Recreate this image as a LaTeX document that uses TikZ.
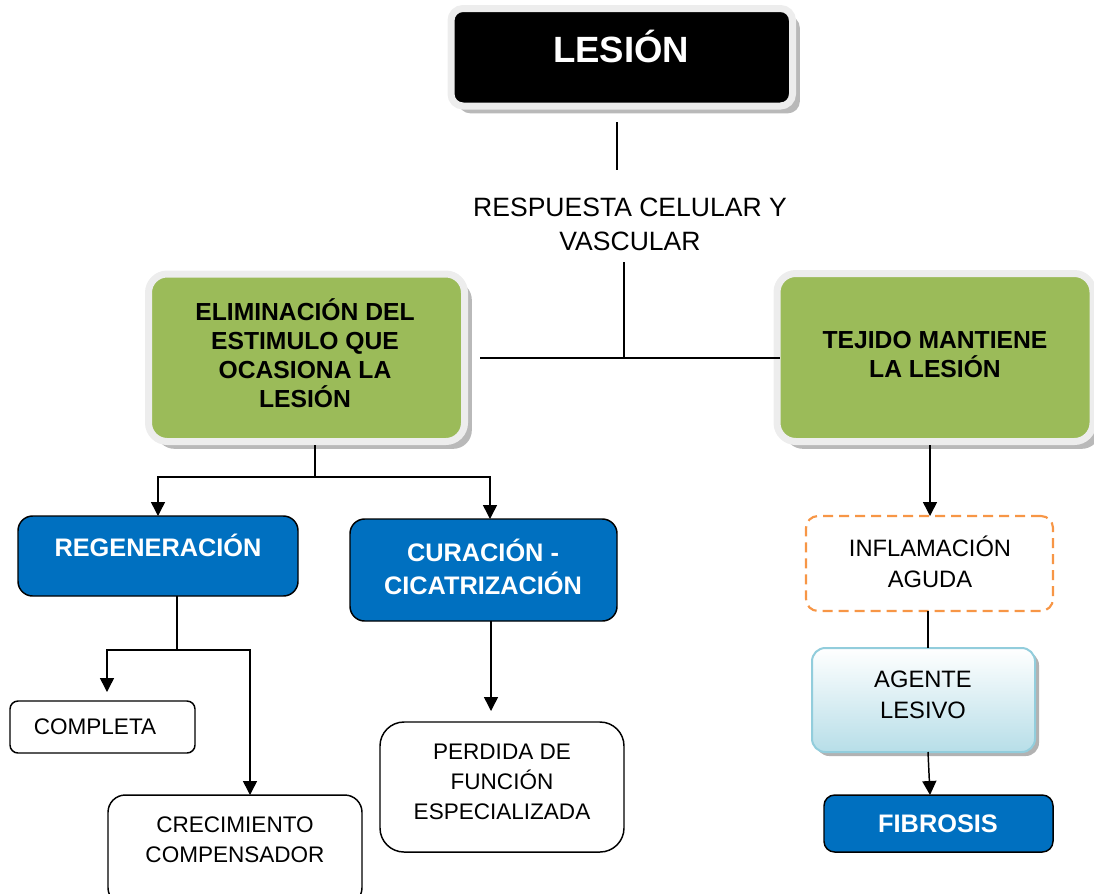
\documentclass[tikz,border=0pt]{standalone}
\usepackage{fontspec}
\setmainfont{Liberation Sans}
\usetikzlibrary{arrows.meta,shadows,calc}
\newlength\pxu \setlength\pxu{0.75pt}
\definecolor{lgreen}{HTML}{9BBB59}
\definecolor{mblue}{HTML}{0070C0}
\definecolor{oran}{HTML}{F79646}
\definecolor{lblue}{HTML}{B7DEE8}
\definecolor{lbord}{HTML}{92CDDC}
\definecolor{frameg}{HTML}{EDEDED}
\tikzset{
  x=0.75pt, y=-0.75pt,
  conn/.style={line width=1.1pt, black},
  arr/.style={conn, -{Triangle[length=10.5pt,width=10.5pt]}},
  boxbase/.style={inner sep=0pt, outer sep=0pt},
  framed/.style={boxbase, rounded corners=9pt, line width=5.25pt, draw=frameg,
     drop shadow={shadow xshift=5.5pt, shadow yshift=-5.5pt, fill=gray!55, opacity=1}},
  bluebox/.style={boxbase, rounded corners=11pt, line width=1.1pt, draw=black, fill=mblue},
  whitebox/.style={boxbase, line width=1.1pt, draw=black, fill=white},
  dashbox/.style={boxbase, rounded corners=9pt, line width=1.6pt, draw=oran, dash pattern=on 7.5pt off 4.5pt, fill=white},
  gradbox/.style={boxbase, rounded corners=10pt, line width=1.5pt, draw=lbord, top color=white, bottom color=lblue,
     drop shadow={shadow xshift=3pt, shadow yshift=-3pt, fill=gray!60, opacity=1}},
  boldtxt/.style={align=center, inner sep=0pt, font=\fontsize{18.5}{21.75}\selectfont\bfseries},
  bluetxt/.style={align=center, inner sep=0pt, text=white, font=\fontsize{19}{24.75}\selectfont\bfseries},
  bodytxt/.style={align=center, inner sep=0pt, font=\fontsize{16.9}{22.5}\selectfont},
  bigbody/.style={align=center, inner sep=0pt, font=\fontsize{17.8}{23.5}\selectfont},
}
\begin{document}
\begin{tikzpicture}
\useasboundingbox (0,0) rectangle (1094,893);

% top box
\node[framed, fill=black, minimum width=341.5\pxu, minimum height=97.5\pxu] (lesion) at (621.75,57.25) {};
\node[anchor=base, inner sep=0pt, text=white, font=\fontsize{27.4}{30}\selectfont\bfseries] (lesiont) at (621,62) {LESIÓN};

\node[align=center, inner sep=0pt, font=\fontsize{19.9}{25.5}\selectfont] (resp) at (630,224) {RESPUESTA CELULAR Y\\VASCULAR};

% green boxes
\node[framed, rounded corners=14pt, fill=lgreen, minimum width=316\pxu, minimum height=167.5\pxu] (leftg) at (306.5,357.75) {};
\node[boldtxt] (leftgt) at (305,353.5) {ELIMINACIÓN DEL\\ESTIMULO QUE\\OCASIONA LA\\LESIÓN};
\node[framed, rounded corners=14pt, fill=lgreen, minimum width=316\pxu, minimum height=168\pxu] (rightg) at (935,357.5) {};
\node[boldtxt] (rightgt) at (935,354) {TEJIDO MANTIENE\\LA LESIÓN};

% blue boxes
\node[bluebox, minimum width=280\pxu, minimum height=80\pxu] (regen) at (158,556) {};
\node[bluetxt] (regent) at (158,545) {REGENERACIÓN};
\node[bluebox, minimum width=267\pxu, minimum height=102\pxu] (curac) at (483.5,570) {};
\node[bluetxt] (curact) at (483,566.5) {CURACIÓN -\\CICATRIZACIÓN};

% white boxes
\node[whitebox, rounded corners=6pt, minimum width=185\pxu, minimum height=52\pxu] (completa) at (102.5,727) {};
\node[bodytxt] (completat) at (95,727) {COMPLETA};
\node[whitebox, rounded corners=13pt, minimum width=254\pxu, minimum height=110\pxu] (crecim) at (235,850) {};
\node[bodytxt] (crecimt) at (235,840) {CRECIMIENTO\\COMPENSADOR};
\node[whitebox, rounded corners=18pt, minimum width=244\pxu, minimum height=130\pxu] (perdida) at (502,787) {};
\node[bodytxt] (perdidat) at (502,782) {PERDIDA DE\\FUNCIÓN\\ESPECIALIZADA};

% right column
\node[dashbox, minimum width=247\pxu, minimum height=95\pxu] (infl) at (929.5,563.5) {};
\node[bigbody] (inflt) at (930,561.5) {INFLAMACIÓN\\AGUDA};
\node[gradbox, minimum width=223\pxu, minimum height=104\pxu] (agente) at (923.5,700) {};
\node[bigbody] (agentet) at (923,695) {AGENTE\\LESIVO};
\node[bluebox, rounded corners=8pt, minimum width=229\pxu, minimum height=57\pxu] (fibro) at (938.5,823.5) {};
\node[bluetxt] (fibrot) at (938,824) {FIBROSIS};

% connectors
\coordinate (rtop) at (617,170);
\coordinate (rbot) at (624,262);
\coordinate (hub) at (624,358);
\draw[conn] ($(lesion.south)+(-4.75,16)$) -- (rtop);
\draw[conn] (rbot) -- (hub);
\draw[conn] ($(leftg.east)+(15.5,0.25)$) -- ($(rightg.west)+(3,0.5)$);

\coordinate (lsplit) at (315,477);
\draw[conn] ($(leftg.south)+(8.5,3.5)$) -- (lsplit);
\draw[arr] (lsplit) -| (regen.north);
\draw[arr] (lsplit) -| ($(curac.north)+(6.5,0)$);

\coordinate (rsplit) at (177,650);
\draw[conn] ($(regen.south)+(19,0)$) -- (rsplit);
\draw[arr] (rsplit) -| ($(completa.north)+(4.5,-9)$);
\draw[arr] (rsplit) -| ($(crecim.north)+(15,0)$);

\draw[arr] ($(curac.south)+(7.5,0)$) -- ($(perdida.north)+(-11,-11)$);

\draw[arr] ($(rightg.south)+(-5,3.5)$) -- ($(infl.north)+(0.5,0)$);
\draw[conn] ($(infl.south)+(-1.5,0)$) -- ($(agente.north)+(4.5,0)$);
\draw[arr] ($(agente.south)+(4.5,0)$) -- ($(fibro.north)+(-8.5,0)$);
\end{tikzpicture}
\end{document}
